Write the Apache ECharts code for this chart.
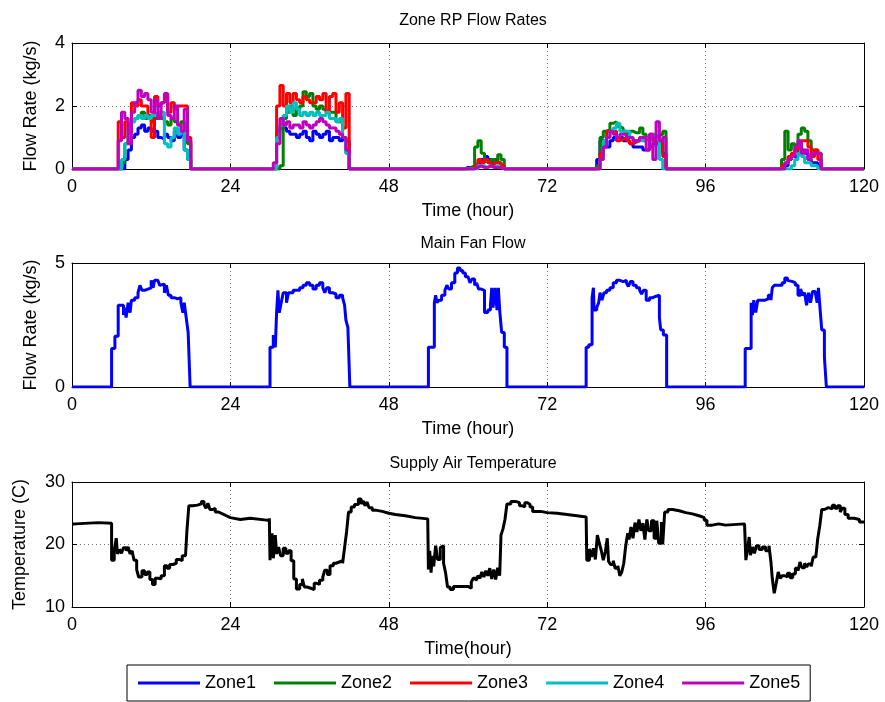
<!DOCTYPE html>
<html>
<head>
<meta charset="utf-8">
<script src="https://cdn.jsdelivr.net/npm/echarts@6/dist/echarts.min.js"></script>
<style>
html,body{margin:0;padding:0;background:#fff;}
#chart{width:885px;height:702px;}
</style>
</head>
<body>
<div id="chart"></div>
<script>
// ---------- DATA ----------
const zoneNames = ['Zone1', 'Zone2', 'Zone3', 'Zone4', 'Zone5'];
const xTicks = [0, 24, 48, 72, 96, 120];

// sample hours for the zone flow series
const tTop = [0,
  6.0,6.5,7.0,7.5,8.0,8.5,9.0,9.5,10.0,10.5,11.0,11.5,12.0,12.5,13.0,13.5,14.0,14.5,15.0,15.5,16.0,16.5,17.0,17.5,18.0,
  30.0,30.5,31.0,31.5,32.0,32.5,33.0,33.5,34.0,34.5,35.0,35.5,36.0,36.5,37.0,37.5,38.0,38.5,39.0,39.5,40.0,40.5,41.0,41.5,42.0,
  59.0,59.5,60.0,60.5,61.0,61.5,62.0,62.5,63.0,63.5,64.0,64.5,65.0,65.5,
  79.0,79.5,80.0,80.5,81.0,81.5,82.0,82.5,83.0,83.5,84.0,84.5,85.0,85.5,86.0,86.5,87.0,87.5,88.0,88.5,89.0,89.5,90.0,90.5,
  107.0,107.5,108.0,108.5,109.0,109.5,110.0,110.5,111.0,111.5,112.0,112.5,113.0,113.5,
  120];

const zone1 = [0,
  0,0,0,0,0.3,0.6,1.0,1.1,1.3,1.4,1.2,1.3,1.2,1.2,1.0,0.95,1.1,1.0,0.9,1.2,1.0,1.1,0.6,0.3,0,
  0,0,1.2,1.3,1.3,1.2,1.1,1.1,1.0,1.1,1.2,1.0,0.9,1.2,1.1,1.0,1.1,1.2,0.9,1.0,1.0,0.9,1.0,0.9,0,
  0,0.05,0.05,0.05,0.1,0.2,0.3,0.4,0.3,0.2,0.3,0.2,0.1,0,
  0,0.3,0.9,0.7,0.7,0.9,1.0,1.0,1.0,0.9,0.9,0.8,0.7,0.7,0.7,0.6,0.6,0.7,0.8,0.8,0.9,0.5,0,0,
  0,0,0.1,0.3,0.4,0.4,0.8,0.6,0.5,0.3,0.2,0.2,0.1,0,
  0];
const zone2 = [0,
  0,0,0,0.2,0.8,1.3,1.5,1.6,1.7,1.8,1.6,1.7,1.5,1.6,1.7,1.6,1.5,1.4,1.6,1.5,1.4,1.5,1.2,0.8,0,
  0,0,0,0.1,1.6,1.8,2.0,1.7,1.9,2.0,2.45,2.3,2.4,2.0,1.9,2.0,1.9,1.8,1.8,1.8,1.5,1.5,1.0,0.5,0,
  0,0,0.05,0.1,0.7,0.9,0.5,0.3,0.2,0.3,0.2,0.45,0.3,0,
  0,0.1,1.0,1.2,1.25,1.45,1.5,1.35,1.3,1.2,1.1,1.2,1.15,1.15,1.3,1.1,1.0,1.0,1.0,1.05,1.1,1.2,0,0,
  0,0.3,1.2,0.6,0.8,0.7,1.1,1.3,1.2,0.9,0.6,0.6,0.5,0,
  0];
const zone3 = [0,
  0,0,1.5,1.0,1.5,1.2,2.1,2.0,2.2,2.0,2.0,1.6,1.0,2.3,2.0,2.1,2.3,1.8,2.1,1.9,2.0,2.0,2.0,1.0,0,
  0,0,2.0,2.65,2.0,2.4,2.1,2.4,2.2,2.1,2.3,2.2,2.1,2.1,2.3,2.2,2.4,1.8,2.3,2.4,1.8,2.1,1.3,2.4,0,
  0,0,0,0,0.1,0.3,0.2,0.3,0.2,0.1,0.2,0.2,0.1,0,
  0,0,0.5,0.9,1.2,1.2,1.2,0.9,0.95,1.0,0.9,0.8,0.85,0.9,1.0,0.9,1.0,1.1,0.9,0.8,0.9,0.4,0,0,
  0,0.1,0.2,0.4,0.5,0.6,0.8,0.9,0.9,0.7,0.4,0.6,0.3,0,
  0];
const zone4 = [0,
  0,0,0,0.3,0.8,1.3,1.5,1.6,1.7,1.6,1.7,1.6,1.7,1.7,1.8,1.8,0.8,0.7,1.0,1.3,1.1,1.2,0.6,0.3,0,
  0,0,1.0,1.4,1.7,2.0,1.8,2.1,1.9,1.7,1.8,1.7,1.8,1.7,1.8,1.7,1.7,1.8,1.6,1.6,1.5,1.6,1.0,0.5,0,
  0,0,0,0,0,0.1,0.1,0.05,0.1,0.05,0.1,0.05,0,0,
  0,0,0.3,0.9,1.0,1.2,1.3,1.45,1.2,1.2,1.2,1.0,0.9,0.9,0.9,0.95,1.0,1.0,1.1,1.0,0.3,0,0,0,
  0,0,0,0,0.1,0.3,0.5,0.4,0.2,0.2,0.1,0.1,0,0,
  0];
const zone5 = [0,
  0,0,0.9,1.8,1.6,0.8,1.8,2.1,2.5,2.3,2.4,2.2,1.8,2.2,1.6,2.1,2.4,1.7,1.6,2.0,1.4,1.2,1.9,0.9,0,
  0,0.2,0.8,1.6,1.4,1.5,1.3,1.4,1.4,1.3,1.5,1.4,1.3,1.4,1.5,1.6,1.5,1.4,1.3,1.3,1.2,1.1,1.0,0.6,0,
  0,0,0,0,0.05,0.1,0.05,0.05,0.1,0.05,0.05,0.05,0,0,
  0,0,0.3,0.7,1.0,1.2,1.1,1.0,1.1,1.1,1.0,1.0,0.9,0.9,1.0,1.0,0.6,1.1,0.3,1.5,0.9,1.0,0,0,
  0,0,0.2,0.3,0.4,0.7,0.9,0.5,0.6,0.3,0.5,0.5,0.5,0,
  0];

// main fan flow: [hour, kg/s]
const fanFlow = [
  [0,0],[6.0,1.55],[6.5,2.05],[7.0,3.3],[7.8,2.9],[8.0,3.2],[8.2,2.8],[8.5,3.4],[8.8,3.0],[9.0,3.5],[9.5,3.6],[10.0,3.8],
  [10.3,4.1],[10.6,3.9],[11.0,3.95],[11.5,4.0],[12.0,4.3],[12.3,4.0],[12.5,4.3],[13.0,4.3],[13.3,4.1],[13.6,4.15],[14.0,3.8],
  [14.3,4.1],[14.6,3.7],[15.0,3.6],[15.5,3.55],[16.0,3.6],[16.5,3.4],[16.8,3.0],[17.0,3.4],[17.3,2.8],[17.6,2.2],[17.9,0],
  [22.0,0.08],[22.3,0],
  [30.0,1.6],[30.5,2.1],[30.8,1.6],[31.0,3.0],[31.2,3.9],[31.4,3.0],[31.7,3.4],[32.0,3.8],[32.5,3.4],[32.8,3.8],[33.5,3.9],
  [34.0,3.9],[34.5,4.0],[35.0,4.1],[35.5,4.2],[36.0,4.1],[36.5,3.95],[37.0,4.1],[37.5,4.2],[38.0,4.0],[38.3,3.8],[38.6,4.0],
  [39.0,3.8],[39.5,3.75],[40.0,3.6],[40.5,3.7],[41.0,3.6],[41.3,3.3],[41.5,2.7],[41.8,2.4],[42.1,0],[46.2,0.06],[46.5,0],
  [54.0,1.6],[54.9,3.4],[55.1,3.7],[55.3,3.4],[55.6,3.5],[56.0,3.7],[56.5,3.9],[56.8,4.1],[57.1,3.95],[57.5,4.2],[58.0,4.6],
  [58.4,4.8],[58.8,4.7],[59.2,4.6],[59.6,4.45],[60.0,4.4],[60.3,4.2],[60.6,4.35],[61.0,4.1],[61.3,4.2],[61.6,3.95],[62.0,3.9],
  [62.5,3.0],[63.0,3.1],[63.4,3.3],[63.6,4.0],[63.8,3.2],[64.1,4.0],[64.4,3.1],[64.6,4.0],[64.8,3.1],[65.1,2.2],[65.5,1.6],[65.9,0],
  [77.9,1.6],[78.3,1.7],[78.8,3.6],[79.0,4.0],[79.1,3.1],[79.5,3.2],[79.8,3.4],[80.0,3.8],[80.3,3.5],[80.6,3.8],[81.0,3.9],
  [81.5,4.0],[82.0,4.2],[82.5,4.3],[83.0,4.25],[83.5,4.3],[84.0,4.2],[84.3,4.05],[84.6,4.25],[85.0,4.1],[85.5,4.0],[86.0,3.9],
  [86.3,3.75],[86.6,3.9],[87.0,3.5],[87.5,3.6],[88.0,3.65],[88.4,3.6],[88.7,3.7],[89.0,2.8],[89.2,2.3],[89.6,2.1],[90.1,0],
  [93.8,0.06],[94.1,0],
  [102.0,1.55],[102.9,3.4],[103.1,2.9],[103.3,3.5],[103.6,3.0],[103.9,3.5],[104.3,3.5],[105.0,3.55],[105.5,3.7],[105.9,3.5],
  [106.1,4.0],[106.4,4.1],[106.8,4.1],[107.2,4.1],[107.6,4.2],[108.0,4.4],[108.4,4.3],[108.7,4.25],[109.2,4.2],[109.6,4.1],
  [110.0,3.7],[110.4,3.95],[110.7,3.7],[111.0,3.8],[111.3,3.3],[111.6,3.8],[111.9,3.4],[112.2,3.85],[112.6,3.8],[112.9,3.4],
  [113.1,4.0],[113.3,3.3],[113.6,2.3],[114.0,1.2],[114.3,0],[117.6,0.06],[117.9,0],[120,0]
];

// supply air temperature: [hour, C]
const supplyTemp = [
  [0,23.3],[0.5,23.5],[4.0,23.4],[6.0,17.5],[6.4,19.0],[6.7,21.0],[6.9,18.5],[7.2,19.2],[7.5,18.6],[7.8,19.5],[8.2,19.0],
  [8.5,19.6],[8.8,18.5],[9.1,19.0],[9.4,17.5],[9.8,16.0],[10.1,14.8],[10.6,15.8],[11.0,15.2],[11.4,15.6],[11.8,14.4],[12.2,13.6],
  [12.6,14.6],[13.0,14.5],[13.5,15.0],[14.0,16.6],[14.4,16.2],[14.8,16.8],[15.3,17.0],[15.8,17.6],[16.3,17.4],[16.7,18.2],
  [17.2,17.9],[17.4,22.0],[17.7,26.2],[18.3,26.3],[19.0,26.5],[19.6,26.9],[20.0,26.4],[20.3,25.8],[20.6,26.6],[20.9,25.6],
  [21.3,25.8],[21.7,25.2],[22.2,24.9],[22.8,24.6],[23.4,24.3],[24.0,24.0],[25.5,24.2],[27.0,23.9],[29.5,23.8],[29.9,24.2],
  [30.0,17.5],[30.3,21.8],[30.5,17.8],[30.8,21.5],[31.0,18.5],[31.3,19.6],[31.6,18.2],[32.0,19.4],[32.4,18.6],[32.8,19.0],
  [33.2,17.4],[33.6,14.5],[34.0,12.9],[34.5,13.6],[34.9,14.5],[35.2,13.2],[35.6,13.0],[36.2,12.8],[36.7,13.8],[37.1,13.6],
  [37.5,14.3],[38.0,14.8],[38.3,15.9],[38.7,15.2],[39.1,16.6],[39.6,17.0],[40.0,17.2],[40.5,17.4],[41.0,17.0],[41.3,19.5],
  [41.6,22.0],[41.9,25.2],[42.3,26.0],[42.8,26.4],[43.4,27.3],[43.8,26.5],[44.1,27.0],[44.4,26.2],[44.7,26.8],[45.0,25.9],
  [45.5,25.5],[46.0,25.3],[47.0,25.0],[48.0,24.8],[49.0,24.6],[50.5,24.3],[52.0,24.1],[53.9,24.1],
  [54.0,16.0],[54.2,19.0],[54.4,15.5],[54.6,18.2],[54.8,16.5],[55.1,19.8],[55.4,17.6],[55.8,19.5],[56.0,19.8],[56.3,17.0],
  [56.6,15.5],[56.9,13.2],[57.3,12.8],[57.8,13.3],[59.0,13.3],[60.0,13.0],[60.5,14.0],[60.8,14.6],[61.2,14.2],[61.5,15.0],
  [61.8,14.6],[62.1,15.6],[62.4,14.8],[62.7,15.8],[63.0,15.0],[63.3,16.2],[63.6,14.5],[63.9,16.0],[64.2,14.4],[64.5,16.3],
  [64.8,15.0],[65.0,21.5],[65.3,22.5],[65.6,24.0],[65.9,26.5],[66.5,26.9],[67.2,26.7],[67.8,26.2],[68.2,26.0],[68.6,26.7],
  [69.0,26.4],[69.4,26.0],[69.8,25.3],[71.0,25.1],[72.0,25.0],[73.5,24.8],[75.0,24.6],[76.5,24.4],[77.9,24.4],
  [78.0,17.5],[78.4,19.3],[78.7,18.0],[79.0,19.4],[79.3,17.6],[79.6,21.5],[79.9,20.2],[80.2,19.0],[80.5,17.5],[80.8,18.8],
  [81.1,21.0],[81.3,17.3],[81.6,16.8],[82.0,17.4],[82.3,16.2],[82.7,16.6],[83.0,15.0],[83.3,15.6],[83.6,17.0],[83.9,19.8],
  [84.2,21.8],[84.4,20.8],[84.7,22.8],[85.0,21.0],[85.3,23.5],[85.6,22.0],[85.9,24.0],[86.2,22.2],[86.5,23.4],[86.8,20.8],
  [87.1,24.0],[87.4,22.2],[87.8,23.8],[88.2,21.0],[88.6,23.8],[88.9,20.2],[89.3,23.6],[89.5,20.0],[89.8,25.2],[90.3,25.6],
  [91.0,25.4],[92.0,25.1],[93.0,24.9],[94.0,24.6],[95.0,24.3],[95.8,23.9],[96.2,23.1],[97.0,23.3],[98.0,23.1],[99.0,23.3],[101.9,23.3],
  [102.1,17.5],[102.4,19.5],[102.6,21.2],[102.8,18.3],[103.1,19.6],[103.4,18.6],[103.7,19.8],[104.1,19.2],[104.6,19.6],
  [105.1,19.0],[105.6,19.8],[105.9,17.2],[106.1,14.6],[106.4,12.2],[106.7,13.8],[107.0,15.6],[107.3,14.6],[107.6,15.0],
  [108.0,14.8],[108.4,15.4],[108.8,14.7],[109.2,15.3],[109.6,16.2],[110.0,15.8],[110.3,17.2],[110.6,16.3],[111.0,17.0],
  [111.3,16.4],[111.6,16.9],[112.0,16.5],[112.3,18.0],[112.7,18.3],[113.0,21.0],[113.3,23.0],[113.6,25.6],[114.0,25.9],
  [114.6,25.7],[115.2,26.3],[115.6,25.8],[116.0,26.2],[116.4,25.2],[116.7,25.8],[117.1,24.8],[117.6,24.2],[118.5,24.0],
  [119.3,23.6],[120,23.5]
];

// ---------- CHART ----------
const FONT = '"Liberation Sans", Arial, Helvetica, sans-serif';
const zoneColors = ['#0000FF', '#008000', '#FF0000', '#00BFBF', '#BF00BF'];
const zoneValues = [zone1, zone2, zone3, zone4, zone5];

const grids = [
  { top: 43, height: 126, ymin: 0, ymax: 4, yint: 2, yname: 'Flow Rate (kg/s)', ygap: 32, xname: 'Time (hour)' },
  { top: 263, height: 124, ymin: 0, ymax: 5, yint: 5, yname: 'Flow Rate (kg/s)', ygap: 32, xname: 'Time (hour)' },
  { top: 482, height: 125, ymin: 10, ymax: 30, yint: 10, yname: 'Temperature (C)', ygap: 43, xname: 'Time(hour)' }
];

const txt = { color: '#000', fontSize: 18, fontFamily: FONT };
const gridLine = { show: true, lineStyle: { type: [1, 3], color: '#777', width: 1 } };
const tick = { show: true, inside: true, length: 5, lineStyle: { color: '#000', width: 1 } };
const axLine = { show: true, onZero: false, lineStyle: { color: '#000', width: 1 } };

const xAxes = [], yAxes = [];
grids.forEach((g, i) => {
  xAxes.push({
    gridIndex: i, type: 'value', position: 'bottom', min: 0, max: 120, interval: 24,
    axisLine: axLine, axisTick: tick, splitLine: gridLine,
    axisLabel: Object.assign({ margin: 9, formatter: v => xTicks.includes(v) ? String(v) : '' }, txt),
    name: g.xname, nameLocation: 'middle', nameGap: 33, nameTextStyle: txt
  });
  xAxes.push({
    gridIndex: i, type: 'value', position: 'top', min: 0, max: 120, interval: 24,
    axisLine: axLine, axisTick: tick, splitLine: { show: false }, axisLabel: { show: false }
  });
  yAxes.push({
    gridIndex: i, type: 'value', position: 'left', min: g.ymin, max: g.ymax, interval: g.yint,
    axisLine: axLine, axisTick: tick, splitLine: gridLine,
    axisLabel: Object.assign({ margin: 7 }, txt),
    name: g.yname, nameLocation: 'middle', nameRotate: 90, nameGap: g.ygap, nameTextStyle: txt
  });
  yAxes.push({
    gridIndex: i, type: 'value', position: 'right', min: g.ymin, max: g.ymax, interval: g.yint,
    axisLine: axLine, axisTick: tick, splitLine: { show: false }, axisLabel: { show: false }
  });
});

const series = zoneNames.map((name, k) => ({
  name: name, type: 'line', step: 'end', xAxisIndex: 0, yAxisIndex: 0,
  showSymbol: false, symbol: 'none', color: zoneColors[k],
  lineStyle: { width: 3, color: zoneColors[k] },
  data: tTop.map((t, j) => [t, zoneValues[k][j]])
}));
series.push({
  name: 'Main Fan', type: 'line', step: 'end', xAxisIndex: 2, yAxisIndex: 2,
  showSymbol: false, symbol: 'none', color: '#0000FF',
  lineStyle: { width: 3, color: '#0000FF' }, data: fanFlow
});
series.push({
  name: 'Supply Air', type: 'line', step: 'end', xAxisIndex: 4, yAxisIndex: 4,
  showSymbol: false, symbol: 'none', color: '#000',
  lineStyle: { width: 3, color: '#000' }, data: supplyTemp
});

const titleStyle = { fontSize: 16, fontWeight: 'normal', color: '#000', fontFamily: FONT };
const chart = echarts.init(document.getElementById('chart'), null, { renderer: 'canvas' });
chart.setOption({
  animation: false,
  backgroundColor: '#fff',
  title: [
    { text: 'Zone RP Flow Rates', left: 468, top: 8, textAlign: 'center', textStyle: titleStyle },
    { text: 'Main Fan Flow', left: 468, top: 231, textAlign: 'center', textStyle: titleStyle },
    { text: 'Supply Air Temperature', left: 468, top: 451, textAlign: 'center', textStyle: titleStyle }
  ],
  grid: grids.map(g => ({ left: 72, right: 21, top: g.top, height: g.height, containLabel: false })),
  xAxis: xAxes,
  yAxis: yAxes,
  legend: {
    data: zoneNames, left: 127, top: 665, orient: 'horizontal',
    padding: [9, 10, 9, 11], itemGap: 18, itemWidth: 62, itemHeight: 3, icon: 'rect',
    borderColor: '#000', borderWidth: 1, textStyle: txt
  },
  series: series
});
</script>
</body>
</html>
